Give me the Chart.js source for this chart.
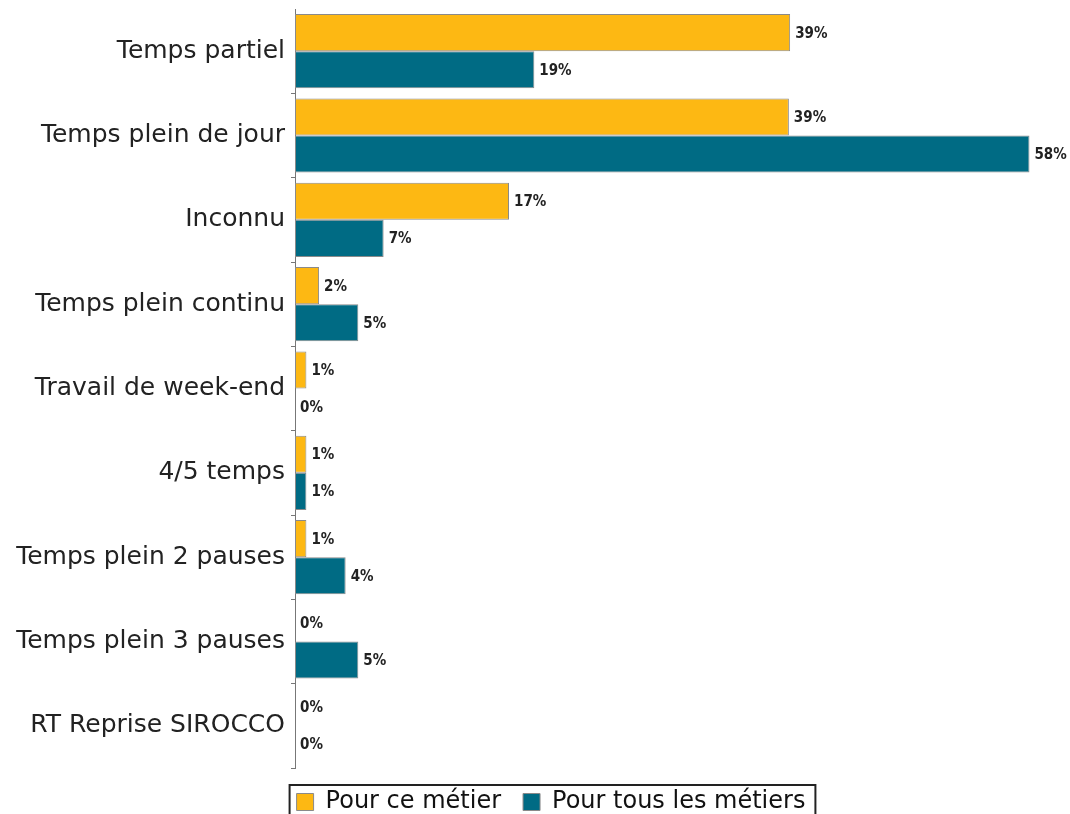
<!DOCTYPE html>
<html>
<head>
<meta charset="utf-8">
<script src="https://cdn.jsdelivr.net/npm/chart.js@4/dist/chart.umd.min.js"></script>
<style>
  html, body { margin: 0; padding: 0; background: #fff; overflow: hidden; }
  #wrap { position: relative; width: 1070px; height: 824px; }
</style>
</head>
<body>
<div id="wrap"><canvas id="chart"></canvas></div>
<script>
// categories and series (percent)
const CATEGORIES = [
  "Temps partiel",
  "Temps plein de jour",
  "Inconnu",
  "Temps plein continu",
  "Travail de week-end",
  "4/5 temps",
  "Temps plein 2 pauses",
  "Temps plein 3 pauses",
  "RT Reprise SIROCCO",
];
const THIS_JOB = [39.1, 39.0, 16.9, 1.9, 0.9, 0.9, 0.9, 0, 0];
const ALL_JOBS = [18.9, 58.0, 7.0, 5.0, 0, 0.9, 4.0, 5.0, 0];
const SERIES_NAMES = ["Pour ce métier", "Pour tous les métiers"];
const X_MAX = 61.2;

const ORANGE = "#fdb813";
const TEAL = "#006b84";
const OUTLINE = "#8a8a8a";
const FONT = "'DejaVu Sans', sans-serif";

// value labels at the end of each bar
const valueLabels = {
  id: "valueLabels",
  afterDatasetsDraw(chart) {
    const ctx = chart.ctx;
    ctx.save();
    ctx.font = "bold 15px 'DejaVu Sans Condensed', 'DejaVu Sans', sans-serif";
    ctx.fillStyle = "#222";
    ctx.textAlign = "left";
    ctx.textBaseline = "middle";
    chart.data.datasets.forEach((ds, i) => {
      chart.getDatasetMeta(i).data.forEach((bar, j) => {
        ctx.fillText(Math.round(ds.data[j]) + "%", bar.x + 5, bar.y + 1);
      });
    });
    ctx.restore();
  },
};

// legend sits a bit right of centre, with a thin frame round it
const legendFrame = {
  id: "legendFrame",
  afterLayout(chart) {
    chart.legend.left += 16;
    chart.legend.right += 16;
  },
  afterDraw(chart) {
    const boxes = chart.legend && chart.legend.legendHitBoxes;
    if (!boxes || !boxes.length) return;
    const first = boxes[0];
    const last = boxes[boxes.length - 1];
    const ctx = chart.ctx;
    ctx.save();
    ctx.strokeStyle = "#222";
    ctx.lineWidth = 2;
    ctx.strokeRect(first.left - 7, first.top - 5, last.left + last.width - first.left + 17, 40);
    ctx.restore();
  },
};

new Chart(document.getElementById("chart"), {
  type: "bar",
  data: {
    labels: CATEGORIES,
    datasets: [
      { label: SERIES_NAMES[0], data: THIS_JOB, backgroundColor: ORANGE },
      { label: SERIES_NAMES[1], data: ALL_JOBS, backgroundColor: TEAL },
    ],
  },
  options: {
    indexAxis: "y",
    responsive: true,
    maintainAspectRatio: false,
    animation: false,
    layout: { padding: { top: 9, left: 0, right: 0, bottom: 0 } },
    datasets: {
      bar: {
        borderColor: OUTLINE,
        borderWidth: 1,
        borderSkipped: false,
        categoryPercentage: 0.88,
        barPercentage: 1,
      },
    },
    plugins: {
      tooltip: { enabled: false },
      legend: {
        position: "bottom",
        labels: {
          font: { family: FONT, size: 24 },
          color: "#111",
          boxWidth: 17,
          boxHeight: 17,
          padding: 22,
        },
      },
    },
    scales: {
      x: { display: false, min: 0, max: X_MAX },
      y: {
        afterFit(scale) {
          scale.width = 295;
          scale.paddingTop = 0;
          scale.paddingBottom = 0;
        },
        ticks: { font: { family: FONT, size: 25 }, color: "#222", padding: 6 },
        grid: {
          drawOnChartArea: false,
          drawTicks: true,
          tickLength: 4,
          color: (c) => (c.index === 0 ? "rgba(0,0,0,0)" : "#777"),
        },
        border: { display: true, color: "#777", width: 1 },
      },
    },
  },
  plugins: [valueLabels, legendFrame],
});
</script>
</body>
</html>
